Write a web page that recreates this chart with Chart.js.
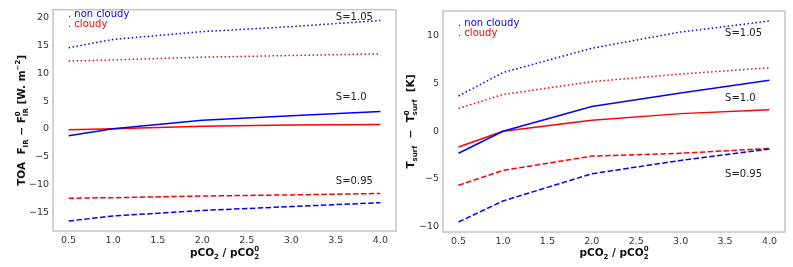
<!DOCTYPE html>
<html>
<head>
<meta charset="utf-8">
<script src="https://cdn.jsdelivr.net/npm/chart.js@4.4.0/dist/chart.umd.min.js"></script>
<style>
  body { margin: 0; background: #fff; }
  .panel { position: absolute; top: 0; }
</style>
</head>
<body>
<canvas id="toa" class="panel" width="400" height="267" style="left:0"></canvas>
<canvas id="tsurf" class="panel" width="393" height="267" style="left:400px"></canvas>
<script>
// data
const pco2 = [0.5, 1.0, 2.0, 3.0, 4.0];
const xTicks = [0.5, 1.0, 1.5, 2.0, 2.5, 3.0, 3.5, 4.0];

// TOA F_IR - F0_IR
const toaClear105 = [14.6, 16.1, 17.5, 18.4, 19.5];
const toaCloud105 = [12.2, 12.4, 12.9, 13.2, 13.5];
const toaClear100 = [-1.25, 0, 1.55, 2.35, 3.1];
const toaCloud100 = [-0.15, 0, 0.45, 0.7, 0.8];
const toaClear095 = [-16.6, -15.7, -14.7, -14.0, -13.3];
const toaCloud095 = [-12.5, -12.4, -12.1, -11.9, -11.65];
const toaTicks = [-15, -10, -5, 0, 5, 10, 15, 20];

// Tsurf - T0surf
const tsClear105 = [3.7, 6.15, 8.7, 10.4, 11.55];
const tsCloud105 = [2.4, 3.85, 5.2, 6.0, 6.65];
const tsClear100 = [-2.3, 0, 2.6, 4.0, 5.35];
const tsCloud100 = [-1.65, 0, 1.15, 1.85, 2.25];
const tsClear095 = [-9.5, -7.3, -4.45, -3.05, -1.85];
const tsCloud095 = [-5.65, -4.1, -2.6, -2.3, -1.8];
const tsTicks = [-10, -5, 0, 5, 10];

const sLabels = ['S=1.05', 'S=1.0', 'S=0.95'];
const toaLabelY = [20.05, 5.6, -9.5];
const tsLabelY = [10.3, 3.4, -4.5];

const BLUE = '#0000ff';
const RED = '#ff0000';
const FONT = "'DejaVu Sans', sans-serif";

function series(data, color, dash) {
  return {
    data: pco2.map((x, i) => ({ x: x, y: data[i] })),
    borderColor: color,
    borderWidth: 1.5,
    borderDash: dash,
    pointRadius: 0,
    tension: 0,
    fill: false
  };
}
const DOT = [1.5, 2.5];
const DASH = [5.5, 2.4];

// draws text with sub/superscripts, parts: {t} or {t, sub} or {t, sup} or {sup, sub}
function richWidth(ctx, parts) {
  let w = 0;
  parts.forEach(p => {
    ctx.font = "bold 10.5px " + FONT;
    if (p.t) w += ctx.measureText(p.t).width;
    ctx.font = "bold 7px " + FONT;
    const a = p.sub ? ctx.measureText(p.sub).width : 0;
    const b = p.sup ? ctx.measureText(p.sup).width : 0;
    w += Math.max(a, b);
  });
  return w;
}
function drawRich(ctx, parts, x, y) {
  let cx = x - richWidth(ctx, parts) / 2;
  ctx.textBaseline = 'alphabetic';
  ctx.textAlign = 'left';
  parts.forEach(p => {
    ctx.font = "bold 10.5px " + FONT;
    if (p.t) { ctx.fillText(p.t, cx, y); cx += ctx.measureText(p.t).width; }
    ctx.font = "bold 7px " + FONT;
    let a = 0, b = 0;
    if (p.sub) { ctx.fillText(p.sub, cx, y + 2.5); a = ctx.measureText(p.sub).width; }
    if (p.sup) { ctx.fillText(p.sup, cx, y - 5); b = ctx.measureText(p.sup).width; }
    cx += Math.max(a, b);
  });
}

const xTitle = [{ t: 'pCO', sub: '2' }, { t: ' / pCO', sub: '2', sup: '0' }];

const decor = {
  id: 'decor',
  afterDraw(chart, args, o) {
    const ctx = chart.ctx;
    const a = chart.chartArea;
    const xs = chart.scales.x, ys = chart.scales.y;
    ctx.save();
    // frame
    ctx.strokeStyle = '#c4c4c4';
    ctx.lineWidth = 1.5;
    ctx.strokeRect(a.left, a.top, a.right - a.left, a.bottom - a.top);
    // S labels
    ctx.fillStyle = '#222';
    ctx.font = "10px " + FONT;
    ctx.textBaseline = 'middle';
    ctx.textAlign = 'left';
    sLabels.forEach((s, i) => ctx.fillText(s, xs.getPixelForValue(3.5), ys.getPixelForValue(o.labelY[i])));
    // legend text
    ctx.fillStyle = BLUE;
    ctx.fillText('. non cloudy', o.legend[0], o.legend[1]);
    ctx.fillStyle = RED;
    ctx.fillText('. cloudy', o.legend[0], o.legend[1] + 10.5);
    // axis titles
    ctx.fillStyle = '#111';
    drawRich(ctx, xTitle, (a.left + a.right) / 2, 256);
    ctx.translate(o.yTitleX, (a.top + a.bottom) / 2);
    ctx.rotate(-Math.PI / 2);
    drawRich(ctx, o.yTitle, 0, 0);
    ctx.restore();
  }
};

function makeChart(id, datasets, yMin, yMax, yTicks, pad, xH, opts) {
  return new Chart(document.getElementById(id), {
    type: 'line',
    data: { datasets: datasets },
    plugins: [decor],
    options: {
      responsive: false,
      animation: false,
      layout: { padding: pad },
      plugins: {
        legend: { display: false },
        tooltip: { enabled: false },
        decor: opts
      },
      scales: {
        x: {
          type: 'linear',
          min: 0.325,
          max: 4.175,
          afterBuildTicks: s => { s.ticks = xTicks.map(v => ({ value: v })); },
          afterFit: s => { s.height = xH; },
          grid: { display: false, drawTicks: false },
          border: { display: false },
          ticks: {
            color: '#333',
            font: { family: FONT, size: 9.5 },
            padding: 4,
            maxRotation: 0,
            callback: v => v.toFixed(1)
          }
        },
        y: {
          min: yMin,
          max: yMax,
          afterBuildTicks: s => { s.ticks = yTicks.map(v => ({ value: v })); },
          afterFit: s => { s.width = pad.yw; },
          grid: { display: false, drawTicks: false },
          border: { display: false },
          ticks: {
            color: '#333',
            font: { family: FONT, size: 9.5 },
            padding: 4,
            callback: v => String(v).replace('-', '\u2212')
          }
        }
      }
    }
  });
}

makeChart('toa', [
  series(toaClear105, BLUE, DOT),
  series(toaCloud105, RED, DOT),
  series(toaClear100, BLUE, []),
  series(toaCloud100, RED, []),
  series(toaClear095, BLUE, DASH),
  series(toaCloud095, RED, DASH)
], -18.4, 21.45, toaTicks, { top: 9, right: 4, left: 0, bottom: 0, yw: 53 }, 36, {
  labelY: toaLabelY,
  legend: [68, 14],
  yTitleX: 25,
  yTitle: [{ t: 'TOA  F', sub: 'IR' }, { t: ' \u2212 F', sub: 'IR', sup: '0' }, { t: ' [W. m', sup: '\u22122' }, { t: ']' }]
});

makeChart('tsurf', [
  series(tsClear105, BLUE, DOT),
  series(tsCloud105, RED, DOT),
  series(tsClear100, BLUE, []),
  series(tsCloud100, RED, []),
  series(tsClear095, BLUE, DASH),
  series(tsCloud095, RED, DASH)
], -10.55, 12.6, tsTicks, { top: 11, right: 8, left: 0, bottom: 0, yw: 43 }, 35, {
  labelY: tsLabelY,
  legend: [58, 23],
  yTitleX: 14,
  yTitle: [{ t: 'T', sub: 'surf' }, { t: '  \u2212  T', sub: 'surf', sup: '0' }, { t: '  [K]' }]
});
</script>
</body>
</html>
